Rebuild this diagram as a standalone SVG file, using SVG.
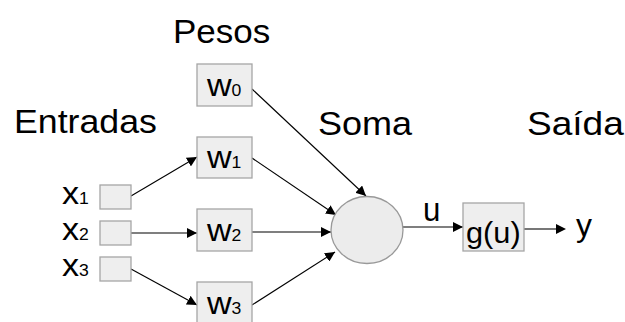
<svg xmlns="http://www.w3.org/2000/svg" width="625" height="322" viewBox="0 0 625 322">
<defs>
<style>
text{font-family:"Liberation Sans",Arial,sans-serif;fill:#000}
.box{fill:#eeeeee;stroke:#a6a6a6;stroke-width:1.3}
.ln{stroke:#000;stroke-width:1.1;fill:none}
.big{font-size:34px}
.w{font-size:31px}
.sub{font-size:16px}
</style>
<marker id="ah" viewBox="0 0 10 10" refX="10" refY="5" markerWidth="10" markerHeight="10" markerUnits="userSpaceOnUse" orient="auto">
<path d="M0,0 L10,5 L0,10 z" fill="#000"/>
</marker>
</defs>
<rect width="625" height="322" fill="#fff"/>
<g id="titles">
<text class="big" transform="translate(173,43) scale(1.03,1)">Pesos</text>
<text class="big" transform="translate(14,133) scale(1.05,1)">Entradas</text>
<text class="big" transform="translate(318,135) scale(1.06,1)">Soma</text>
<text class="big" transform="translate(527,135) scale(1.09,1)">Saída</text>
</g>
<g id="connectors">
<line class="ln" x1="131" y1="196" x2="197" y2="157" marker-end="url(#ah)"/>
<line class="ln" x1="131" y1="233" x2="197" y2="233" marker-end="url(#ah)"/>
<line class="ln" x1="131" y1="269" x2="197" y2="305" marker-end="url(#ah)"/>
<line class="ln" x1="252" y1="89" x2="366" y2="196" marker-end="url(#ah)"/>
<line class="ln" x1="252" y1="158" x2="336" y2="215" marker-end="url(#ah)"/>
<line class="ln" x1="252" y1="232" x2="331" y2="232" marker-end="url(#ah)"/>
<line class="ln" x1="252" y1="305" x2="335" y2="252" marker-end="url(#ah)"/>
<line class="ln" x1="403" y1="227" x2="463" y2="227" marker-end="url(#ah)"/>
<line x1="524" y1="229" x2="558" y2="229" stroke="#777" stroke-width="2"/>
<path d="M556,224 L566,229 L556,234 z" fill="#000"/>
</g>
<g id="x1"><rect class="box" x="100" y="185" width="31" height="24"/><text class="w" transform="translate(62,204) scale(1.1,1)">x<tspan class="sub">1</tspan></text></g>
<g id="x2"><rect class="box" x="100" y="221" width="31" height="24"/><text class="w" transform="translate(62,240) scale(1.1,1)">x<tspan class="sub">2</tspan></text></g>
<g id="x3"><rect class="box" x="100" y="257" width="31" height="24"/><text class="w" transform="translate(62,276) scale(1.1,1)">x<tspan class="sub">3</tspan></text></g>
<g id="w0"><rect class="box" x="197" y="64" width="55" height="42"/><text class="w" transform="translate(207,96) scale(1.1,1)">w<tspan class="sub">0</tspan></text></g>
<g id="w1"><rect class="box" x="197" y="137" width="55" height="41"/><text class="w" transform="translate(207,168) scale(1.1,1)">w<tspan class="sub">1</tspan></text></g>
<g id="w2"><rect class="box" x="197" y="209" width="55" height="42"/><text class="w" transform="translate(207,241) scale(1.1,1)">w<tspan class="sub">2</tspan></text></g>
<g id="w3"><rect class="box" x="197" y="282" width="55" height="42"/><text class="w" transform="translate(207,314) scale(1.1,1)">w<tspan class="sub">3</tspan></text></g>
<g id="soma"><ellipse cx="367" cy="230" rx="36" ry="33.5" fill="#ececec" stroke="#999" stroke-width="1.3"/></g>
<g id="u"><text style="font-size:34px" transform="translate(423,221) scale(0.92,1)">u</text></g>
<g id="g"><rect class="box" x="463" y="203" width="61" height="48"/><text style="font-size:29px" transform="translate(466,243) scale(1.06,1)">g(u)</text></g>
<g id="y"><text class="w" transform="translate(576,236) scale(1.03,1)">y</text></g>
</svg>
